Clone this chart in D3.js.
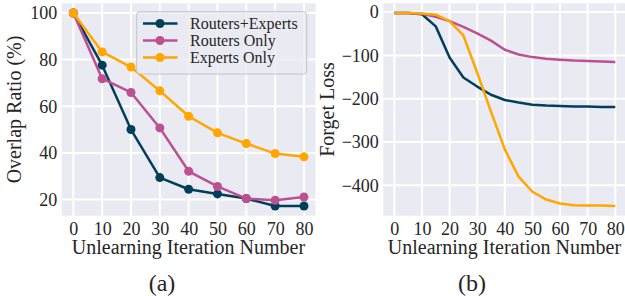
<!DOCTYPE html>
<meta charset="utf-8">
<style>
  body { margin: 0; background: #fff; }
  svg { display: block; font-family: "Liberation Serif", "DejaVu Serif", serif; }
  .tick text { fill: #262626; }
</style>
<body></body>
<script src="https://cdn.jsdelivr.net/npm/d3@7"></script>
<script>
  // ---- data ----
  var seriesNames = ["Routers+Experts", "Routers Only", "Experts Only"];
  var colors = ["#003f5c", "#bc5090", "#ffa600"];

  // (a) overlap ratio, every 10 iterations
  var iterA = [0, 10, 20, 30, 40, 50, 60, 70, 80];
  var overlapRE = [100, 77.6, 50, 29.4, 24.4, 22.4, 20.4, 17.2, 17.2];
  var overlapRO = [100, 71.8, 65.9, 50.7, 32.1, 25.6, 20.4, 19.7, 21.1];
  var overlapEO = [100, 83.3, 76.8, 66.6, 55.7, 48.6, 44, 39.7, 38.3];

  // (b) forget loss, every 5 iterations
  var iterB = [0, 5, 10, 15, 20, 25, 30, 35, 40, 45, 50, 55, 60, 65, 70, 75, 80];
  var lossRE = [-2, -2, -5, -33, -105, -151, -172, -191, -203, -209, -214, -216, -217, -218, -218, -219, -219];
  var lossRO = [-2, -2, -4, -11, -21, -34, -49, -66, -87, -98, -104, -108, -110, -112, -113, -114, -115];
  var lossEO = [-2, -2, -3, -6, -21, -54, -140, -230, -317, -380, -415, -433, -442, -446, -447, -447, -448];

  var xTicks = [0, 10, 20, 30, 40, 50, 60, 70, 80];
  var yTicksA = [20, 40, 60, 80, 100];
  var yTicksB = [0, -100, -200, -300, -400];

  // ---- layout ----
  var W = 625, H = 296;
  var plotTop = 3.3, plotBottom = 215.7;
  var txt = "#262626";

  var svg = d3.select("body").append("svg")
    .attr("width", W).attr("height", H);

  function padded(vals) {
    var lo = d3.min(vals), hi = d3.max(vals), m = (hi - lo) * 0.05;
    return [lo - m, hi + m];
  }

  function panel(opts) {
    var x = d3.scaleLinear().domain([-4, 84]).range([opts.left, opts.right]);
    var y = d3.scaleLinear().domain(padded(opts.all)).range([plotBottom, plotTop]);
    var g = svg.append("g");

    g.append("rect")
      .attr("x", opts.left).attr("y", plotTop)
      .attr("width", opts.right - opts.left).attr("height", plotBottom - plotTop)
      .attr("fill", "#eaeaf2");

    // grid
    g.selectAll(".gx").data(xTicks).enter().append("line")
      .attr("x1", function(d) { return x(d); }).attr("x2", function(d) { return x(d); })
      .attr("y1", plotTop).attr("y2", plotBottom)
      .attr("stroke", "#fff").attr("stroke-width", 2);
    g.selectAll(".gy").data(opts.yTicks).enter().append("line")
      .attr("x1", opts.left).attr("x2", opts.right)
      .attr("y1", function(d) { return y(d); }).attr("y2", function(d) { return y(d); })
      .attr("stroke", "#fff").attr("stroke-width", 2);

    // axes (no tick marks, no domain)
    var xa = g.append("g").attr("transform", "translate(0," + plotBottom + ")")
      .call(d3.axisBottom(x).tickValues(xTicks).tickSize(0).tickPadding(6));
    xa.select(".domain").remove();
    xa.selectAll("text").attr("font-size", 18).attr("dy", "0.75em");

    var ya = g.append("g").attr("transform", "translate(" + opts.left + ",0)")
      .call(d3.axisLeft(y).tickValues(opts.yTicks).tickSize(0).tickPadding(4.5)
        .tickFormat(function(d) { return d < 0 ? "\u2212" + Math.abs(d) : d; }));
    ya.select(".domain").remove();
    ya.selectAll("text").attr("font-size", 18);
    g.selectAll(".tick text").attr("font-family", "Liberation Serif, serif");

    // lines
    var line = d3.line()
      .x(function(d) { return x(d[0]); })
      .y(function(d) { return y(d[1]); });

    opts.series.forEach(function(vals, i) {
      var pts = opts.xs.map(function(v, j) { return [v, vals[j]]; });
      g.append("path").datum(pts)
        .attr("d", line)
        .attr("fill", "none")
        .attr("stroke", colors[i])
        .attr("stroke-width", 2.5)
        .attr("stroke-linejoin", "round");
      if (opts.markers) {
        g.selectAll(".m" + i).data(pts).enter().append("circle")
          .attr("cx", function(d) { return x(d[0]); })
          .attr("cy", function(d) { return y(d[1]); })
          .attr("r", 4.5)
          .attr("fill", colors[i]);
      }
    });

    // labels
    g.append("text")
      .attr("x", opts.xLabelX)
      .attr("y", 254)
      .attr("text-anchor", "middle")
      .attr("font-size", 20).attr("fill", txt)
      .text("Unlearning Iteration Number");

    g.append("text")
      .attr("transform", "translate(" + opts.yLabelX + "," + ((plotTop + plotBottom) / 2) + ") rotate(-90)")
      .attr("text-anchor", "middle")
      .attr("dy", "0.35em")
      .attr("font-size", 20).attr("fill", txt)
      .text(opts.yLabel);

    g.append("text")
      .attr("x", opts.capX).attr("y", 291)
      .attr("text-anchor", "middle")
      .attr("font-size", 24).attr("fill", txt)
      .text(opts.caption);

    return g;
  }

  var ga = panel({
    left: 61.8, right: 315.5,
    xs: iterA, series: [overlapRE, overlapRO, overlapEO],
    all: overlapRE.concat(overlapRO, overlapEO),
    yTicks: yTicksA, markers: true,
    yLabel: "Overlap Ratio (%)", yLabelX: 14,
    xLabelX: 188.5, caption: "(a)", capX: 162
  });

  panel({
    left: 383.3, right: 626.3,
    xs: iterB, series: [lossRE, lossRO, lossEO],
    all: lossRE.concat(lossRO, lossEO),
    yTicks: yTicksB, markers: false,
    yLabel: "Forget Loss", yLabelX: 327,
    xLabelX: 504.5, caption: "(b)", capX: 472
  });

  // legend in panel (a)
  var lg = ga.append("g");
  lg.append("rect")
    .attr("x", 136.7).attr("y", 11.7)
    .attr("width", 170).attr("height", 62.3)
    .attr("rx", 3)
    .attr("fill", "#eaeaf2").attr("fill-opacity", 0.8)
    .attr("stroke", "#c4c4c4").attr("stroke-width", 1);

  seriesNames.forEach(function(name, i) {
    var ry = 23.5 + i * 17;
    lg.append("line")
      .attr("x1", 143).attr("x2", 177.5)
      .attr("y1", ry).attr("y2", ry)
      .attr("stroke", colors[i]).attr("stroke-width", 2.5);
    lg.append("circle")
      .attr("cx", 160).attr("cy", ry).attr("r", 4.5)
      .attr("fill", colors[i]);
    lg.append("text")
      .attr("x", 190).attr("y", ry)
      .attr("dy", "0.35em")
      .attr("font-size", 16).attr("fill", txt)
      .text(name);
  });
</script>
